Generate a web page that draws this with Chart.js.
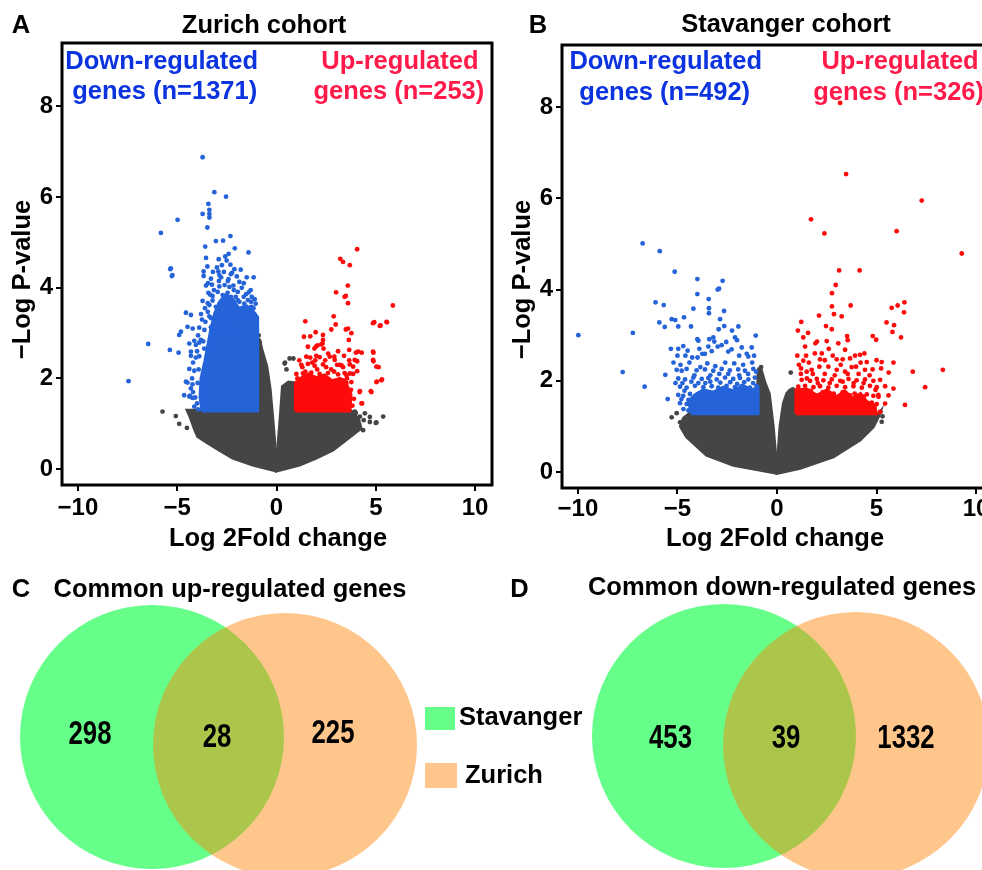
<!DOCTYPE html>
<html><head><meta charset="utf-8">
<script src="https://cdn.jsdelivr.net/npm/chart.js@4.4.1/dist/chart.umd.min.js"></script>
<style>
html,body{margin:0;padding:0;width:982px;height:870px;overflow:hidden;background:#fff}
canvas{position:absolute}
</style>
</head><body>
<canvas id="cA" width="500" height="560" style="left:0;top:0"></canvas>
<canvas id="cB" width="500" height="560" style="left:500px;top:0"></canvas>
<canvas id="cV" width="982" height="310" style="left:0;top:560px"></canvas>
<script>
// ---------------- DATA ----------------
const xTicks = [-10, -5, 0, 5, 10];
const yTicks = [0, 2, 4, 6, 8];

// Zurich cohort (panel A): [log2FC, -logP]
const zurichDown = [
[-3.72,6.88],[-3.13,6.11],[-2.54,6.01],[-3.43,5.85],[-3.38,5.72],[-3.38,5.63],[-3.38,5.55],[-3.72,5.63],[-4.98,5.50],[-5.82,5.21],[-3.48,5.33],[-3.05,5.03],[-2.69,5.04],[-2.32,5.14],[-3.59,4.91],[-2.10,4.87],[-1.41,4.78],[-3.55,4.66],[-2.91,4.63],[-2.58,4.69],[-2.41,4.75],[-2.51,4.60],[-2.32,4.51],[-3.48,4.47],[-5.35,4.41],[-5.27,4.26],[-3.67,4.36],[-3.67,4.26],[-2.93,4.36],[-2.88,4.28],[-2.79,4.23],[-2.12,4.41],[-2.24,4.33],[-2.42,4.19],[-1.50,4.23],[-1.15,4.23],[-1.87,4.13],[-3.55,4.05],[-3.25,4.07],[-2.88,4.03],[-2.61,4.06],[-2.37,4.02],[-2.17,4.05],
[-3.43,3.89],[-3.22,3.82],[-2.96,3.91],[-2.71,3.84],[-2.46,3.89],[-2.29,3.80],[-1.95,3.91],[-1.53,3.86],[-1.30,3.95],[-1.75,4.00],
[-4.56,3.45],[-4.31,3.40],
[-3.38,3.62],[-3.46,3.47],[-3.29,3.33],[-3.58,3.25],[-3.05,3.58],[-2.88,3.44],[-3.08,3.25],[-2.54,3.40],[-2.37,3.66],[-2.20,3.51],[-1.87,3.69],[-1.61,3.55],[-1.44,3.73],[-1.27,3.58],[-1.16,3.55],
[-3.72,3.71],[-3.46,3.66],[-3.22,3.72],[-2.88,3.64],[-2.54,3.70],[-2.20,3.67],[-1.95,3.73],[-1.62,3.65],[-1.28,3.69],
[-3.80,3.42],[-3.38,3.37],[-3.05,3.43],[-2.71,3.38],[-2.37,3.41],[-2.00,3.36],[-1.70,3.43],[-1.36,3.38],[-1.11,3.41],
[-3.89,3.12],[-3.63,3.07],[-3.30,3.13],[-2.96,3.08],[-2.63,3.11],[-2.29,3.06],
[-4.14,2.83],[-3.89,2.79],[-3.69,2.82],
[-4.31,2.50],[-4.06,2.46],[-3.89,2.49],
[-4.39,2.21],[-4.14,2.17],[-3.92,2.20],
[-4.48,1.91],[-4.23,1.87],[-3.97,1.90],
[-4.36,1.62],[-4.09,1.58],
[-4.81,3.03],[-4.90,2.96],[-4.48,3.14],[-4.22,3.10],[-5.37,2.63],[-4.93,2.57],[-6.46,2.76],[-7.45,1.94],
[-4.39,2.77],[-4.06,2.74],[-4.31,2.59],[-3.81,2.85],[-3.64,2.66],
[-5.32,4.43],[-5.24,4.28],[-4.65,1.63],[-4.56,1.93],[-4.31,1.78],[-4.39,1.60],[-4.14,1.38],[-4.23,1.57],
[-3.30,4.20],[-3.00,4.45],[-2.75,4.50],[-2.65,4.35],[-2.30,4.30],[-2.00,4.25],[-1.80,4.40],[-1.65,4.10],[-3.15,3.95],[-2.05,3.80],[-1.40,3.90],[-1.10,3.75],[-3.60,3.55],[-3.75,3.30],[-3.95,2.95],[-4.00,2.60],[-4.20,2.35],[-4.25,2.00],[-4.20,1.70],[-4.00,1.45],[-3.95,1.32],[-1.05,3.65],[-1.25,3.80],[-2.45,4.15],[-2.90,4.15],[-3.20,4.35],[-3.45,4.10],[-3.35,3.85],[-1.65,3.80],[-2.15,3.95]
];
const zurichUp = [
[4.06,4.85],[3.21,4.64],[3.35,4.57],[3.69,4.50],[3.59,4.05],[3.00,3.90],[3.49,3.82],[5.86,3.61],[1.45,3.26],[2.88,3.37],[4.92,3.24],[5.24,3.17],[5.56,3.24],[2.76,3.08],[2.98,3.19],[3.49,3.08],[3.60,3.10],[3.77,3.00],[1.38,2.92],[1.70,2.93],[1.97,3.02],[2.34,2.96],[2.34,2.85],[2.26,2.75],[2.00,2.71],[2.37,2.66],[3.64,2.85],[3.66,2.63],[4.00,2.57],[4.29,2.57],[4.88,2.57],[2.91,2.48],[3.66,2.40],[4.06,2.38],[4.88,2.38],[5.14,2.25],[4.06,2.16],[5.31,1.98],[5.05,1.93],[4.20,1.72],[4.75,1.72],[4.31,1.45],
[1.50,2.48],[1.70,2.46],[2.00,2.50],[2.17,2.47],
[1.25,2.30],[1.58,2.32],[1.92,2.28],[2.34,2.31],[3.27,2.29],[3.69,2.31],
[1.33,2.11],[1.75,2.13],[2.17,2.10],[2.59,2.12],[3.10,2.09],[3.43,2.12],[3.86,2.10],
[1.16,1.93],[1.50,1.95],[1.92,1.92],[2.26,1.94],[2.68,1.91],[3.18,1.93],[3.52,1.90],[3.77,1.92],
[1.58,2.70],[1.91,2.66],[2.07,2.73],[2.32,2.77],
[2.68,2.48],[2.93,2.41],[3.19,2.30],
[3.52,2.07],[3.69,2.11],[3.36,1.96],
[4.86,2.59],[4.86,2.41],[5.03,2.26],[4.78,1.70],[4.28,1.45],[5.28,1.96],[5.03,1.92],
[4.11,2.59],[3.94,2.41],[3.86,2.26],[4.19,1.70],
[3.43,3.80],[3.60,3.66],
[4.86,3.22],[5.20,3.16],[5.54,3.25],
[1.05,2.00],[1.30,2.25],[1.45,2.15],[1.80,2.35],[2.05,2.20],[2.50,2.25],[2.45,2.40],[2.75,2.20],[2.90,2.15],[3.05,2.30],[3.35,2.25],[3.55,2.00],[3.75,1.75],[3.90,1.55],[3.82,1.40],[1.00,2.10],[1.15,2.40],[1.95,2.40],[2.60,2.55],[3.10,2.60],[3.40,2.50]
];
const zurichNS = [
[-5.74,1.27],[-5.07,1.17],[-4.90,1.00],[-4.51,0.91],[-0.99,3.05],[-0.85,2.80],[-0.90,2.95],[0.43,2.35],[0.85,2.44],[0.50,2.20],[0.66,2.44],[0.41,2.33],
[3.99,1.24],[4.20,1.16],[4.39,1.08],[4.70,1.04],[5.00,1.02],[5.37,1.16],[3.94,1.27],[4.45,1.23],[4.70,1.15],[5.03,1.03],[4.11,1.08],[4.36,0.86]
];
const zurichNSLeftShape = [[0,-0.04],[-1.2,0.09],[-2.2,0.24],[-2.88,0.42],[-3.55,0.6],[-3.97,0.72],[-4.1,0.85],[-4.35,1.15],[-4.5,1.3],[-1.0,1.3],[-0.97,2.9],[-0.85,2.85],[-0.74,2.64],[-0.49,2.27],[-0.32,1.76],[-0.2,1.17],[-0.07,0.49],[0,0.3],[0,-0.04]];
const zurichNSRightShape = [[0,0.3],[0.07,0.49],[0.2,1.2],[0.3,1.82],[0.6,1.92],[1.0,1.9],[1.0,1.3],[3.7,1.3],[3.95,1.22],[4.2,1.0],[4.25,0.9],[3.69,0.71],[2.85,0.42],[2.0,0.24],[1.16,0.09],[0,-0.04],[0,0.3]];
const zurichDownCore = [[-3.75,1.28],[-0.95,1.28],[-0.95,3.35],[-1.2,3.5],[-1.5,3.6],[-1.9,3.55],[-2.2,3.75],[-2.55,3.85],[-2.85,3.7],[-3.1,3.45],[-3.3,3.1],[-3.45,2.75],[-3.6,2.4],[-3.8,2.0],[-3.85,1.6],[-3.75,1.28]];
const zurichUpCore = [[0.95,1.28],[3.7,1.28],[3.75,1.65],[3.5,1.9],[3.2,2.0],[2.8,1.95],[2.4,2.08],[2.0,2.02],[1.6,2.1],[1.2,2.0],[0.95,1.9],[0.95,1.28]];

// Stavanger cohort (panel B)
const stavangerDown = [
[-6.75,5.01],[-5.89,4.84],[-5.14,4.39],[-4.00,4.23],[-2.73,4.19],[-2.98,4.00],[-2.91,4.02],[-4.00,3.90],[-3.43,3.79],[-6.10,3.72],[-5.69,3.66],[-4.20,3.58],[-3.42,3.59],[-3.42,3.48],[-2.66,3.53],[-5.91,3.28],[-5.64,3.18],[-5.29,3.35],[-5.11,3.33],[-4.96,3.19],[-4.67,3.39],[-4.32,3.19],[-2.86,3.35],[-2.65,3.20],[-2.93,3.13],[-2.26,3.10],[-1.94,3.19],[-1.07,2.99],[-9.98,3.00],[-7.24,3.05],[-7.75,2.19],[-6.65,1.87],[-5.61,2.13],[-5.49,1.60],[-4.00,2.91],[-3.95,2.88],[-3.40,2.91],[-3.20,2.95],[-3.15,2.86],[-2.11,2.95],[-2.01,2.89],[-5.33,2.70],[-4.96,2.70],[-4.71,2.76],[-4.49,2.66],[-4.26,2.51],[-3.99,2.51],[-3.75,2.59],[-3.62,2.59],[-3.28,2.65],[-2.98,2.75],[-2.78,2.78],[-2.45,2.64],[-2.28,2.69],[-1.77,2.73],[-1.52,2.59],[-1.27,2.73],[-1.44,2.53],
[-5.04,2.24],[-4.79,2.22],[-4.54,2.26],[-4.04,2.23],[-3.62,2.25],[-3.20,2.22],[-2.78,2.26],[-2.37,2.23],[-1.95,2.25],[-1.61,2.22],[-1.19,2.26],
[-4.96,2.05],[-4.62,2.03],[-4.20,2.07],[-3.78,2.04],[-3.45,2.06],[-3.03,2.03],[-2.61,2.07],[-2.20,2.04],[-1.86,2.06],[-1.44,2.03],[-1.11,2.07],
[-4.87,1.87],[-4.54,1.85],[-4.12,1.89],[-3.70,1.86],[-3.28,1.88],[-2.95,1.85],[-2.53,1.89],[-2.11,1.86],[-1.78,1.88],[-1.36,1.85],[-1.03,1.89],
[-4.96,1.69],[-4.71,1.67],[-4.37,1.71],[-3.95,1.68],[-3.53,1.70],[-3.12,1.67],[-2.70,1.71],[-2.28,1.68],[-1.95,1.70],[-1.53,1.67],[-1.11,1.71],
[-4.87,1.51],[-4.54,1.49],[-4.20,1.53],[-4.70,1.38],[-4.45,1.35],
[-4.85,2.35],[-4.40,2.40],[-4.15,2.12],[-3.85,2.30],[-3.50,2.38],[-3.35,2.12],[-3.10,2.32],[-2.90,2.15],[-2.60,2.40],[-2.45,2.15],[-2.15,2.38],[-1.90,2.12],[-1.70,2.35],[-1.45,2.15],[-1.25,2.40],[-1.05,2.20],[-4.75,1.95],[-4.30,1.98],[-3.95,1.95],[-3.60,1.95],[-3.35,1.98],[-2.85,1.96],[-2.35,1.97],[-2.00,1.93],[-1.65,1.97],[-1.20,1.95],[-4.65,1.78],[-4.45,1.58],[-4.80,1.60],[-5.10,1.95],[-5.20,2.40],[-5.00,2.55],[-4.60,2.55],[-3.90,2.70],[-3.45,2.75],[-2.55,2.85],[-1.90,2.55],[-1.15,2.55]
];
const stavangerUp = [
[3.17,8.09],[3.47,6.53],[7.27,5.95],[1.71,5.54],[2.38,5.23],[6.01,5.28],[9.28,4.79],[3.12,4.42],[4.15,4.42],[2.95,4.10],[2.76,3.92],[2.76,3.63],[3.70,3.65],[5.76,3.60],[6.06,3.65],[6.40,3.72],[6.38,3.50],[2.11,3.43],[2.86,3.46],[3.25,3.41],[1.22,3.29],[1.05,3.10],[1.56,3.05],[1.32,2.95],[2.46,3.20],[2.75,3.13],[5.50,3.28],[5.88,3.22],[5.80,3.07],[6.23,2.95],[3.52,2.98],[4.81,2.98],[4.98,2.90],[1.41,2.75],[1.93,2.82],[2.01,2.86],[2.50,2.87],[3.08,2.82],[3.55,2.89],[1.02,2.55],[1.46,2.55],[2.25,2.60],[2.80,2.55],[3.42,2.68],[3.67,2.49],[3.92,2.55],[4.17,2.57],[4.39,2.60],[3.30,2.47],[1.32,2.44],[2.16,2.47],[3.00,2.47],[4.51,2.41],[5.26,2.41],[5.85,2.40],[1.21,2.27],[1.49,2.20],[1.74,2.24],[2.13,2.31],[2.58,2.31],[3.00,2.24],[3.42,2.20],[3.97,2.31],[4.42,2.24],[5.23,2.27],[5.61,2.18],[6.82,2.20],[8.33,2.24],[7.44,1.86],[6.43,1.47],[5.85,1.83],[5.60,1.68],[5.43,1.50],[5.18,1.32],
[1.24,2.02],[1.66,2.00],[2.00,2.04],[2.33,2.01],[2.75,2.03],[3.17,2.00],[3.59,2.04],[4.00,2.01],[4.42,2.03],[4.84,2.00],[5.18,2.02],
[1.07,1.87],[1.41,1.89],[1.83,1.86],[2.16,1.88],[2.58,1.85],[3.00,1.89],[3.42,1.86],[3.84,1.88],[4.26,1.85],[4.67,1.89],[5.01,1.86],[5.43,1.88],
[1.49,1.69],[2.66,1.71],[3.67,1.68],[4.51,1.70],[4.84,1.67],[5.09,1.69],
[4.51,1.50],[4.76,1.52],[5.01,1.49],
[1.20,2.15],[1.50,2.05],[1.80,2.15],[2.05,1.95],[2.40,2.15],[2.65,1.95],[2.90,2.12],[3.30,1.98],[3.55,2.15],[3.85,1.95],[4.10,2.15],[4.35,1.95],[4.65,2.12],[4.95,1.80],[5.10,1.65],[4.90,1.45],[1.15,1.75],[1.70,1.78],[2.30,1.75],[2.85,1.72],[3.30,1.75],[3.90,1.72],[4.35,1.65],[1.10,2.35],[1.60,2.40],[2.40,2.45],[3.20,2.35],[3.75,2.30],[4.20,2.40],[4.80,2.25],[5.00,2.45],[1.90,2.60],[2.60,2.70]
];
const stavangerNS = [
[-5.29,1.20],[-5.04,1.29],[-4.87,1.09],[-4.70,1.03],[-0.89,2.25],[-0.89,2.09],[-0.80,2.30],[0.69,2.18],[0.79,1.81],[5.26,1.10],[5.30,1.22],[5.20,1.32]
];
const stavangerNSLeftShape = [[0,-0.03],[-2.19,0.15],[-3.54,0.37],[-4.55,0.77],[-4.85,1.0],[-4.7,1.18],[-4.35,1.3],[-1.0,1.3],[-0.95,2.2],[-0.8,2.25],[-0.6,1.95],[-0.39,1.72],[-0.19,0.99],[-0.05,0.27],[0,0.15],[0,-0.03]];
const stavangerNSRightShape = [[0,0.15],[0.03,0.27],[0.15,0.99],[0.32,1.5],[0.49,1.72],[0.65,1.8],[1.0,1.8],[1.0,1.3],[5.1,1.28],[5.18,1.32],[5.09,1.21],[4.84,0.99],[4.17,0.7],[2.83,0.33],[1.16,0.08],[0,-0.03],[0,0.15]];
const stavangerDownCore = [[-4.3,1.28],[-0.95,1.28],[-0.95,1.85],[-1.3,1.8],[-1.7,1.9],[-2.2,1.78],[-2.7,1.86],[-3.2,1.75],[-3.7,1.8],[-4.1,1.7],[-4.45,1.55],[-4.3,1.28]];
const stavangerUpCore = [[0.95,1.28],[5.0,1.28],[4.9,1.45],[4.5,1.55],[4.2,1.72],[3.8,1.62],[3.4,1.78],[3.0,1.65],[2.5,1.8],[2.0,1.68],[1.5,1.82],[0.95,1.8],[0.95,1.28]];

// Venn
const vennSets = ['Stavanger', 'Zurich'];
const commonUpCounts = [298, 28, 225];     // Stavanger only, both, Zurich only
const commonDownCounts = [453, 39, 1332];

// ---------------- STYLE / LAYOUT ----------------
const FAM = '"Liberation Sans", Arial, Helvetica, sans-serif';
const F25 = 'bold 25.5px ' + FAM;
const GRAY = '#454545', BLUE = '#2563d9', RED = '#ff0a0a';
const BLUE_T = '#0b33e0', RED_T = '#ff1a4a';
const GREEN_F = 'rgba(0,255,60,0.6)', ORANGE_F = 'rgba(255,128,0,0.45)';
Chart.defaults.font.family = FAM;

const toXY = a => a.map(p => ({x: p[0], y: p[1]}));
const fmt = v => v < 0 ? '\u2212' + Math.abs(v) : String(v);

function makeTextPlugin(items, frame) {
  return {
    id: 'panelText',
    afterDraw(chart) {
      const ctx = chart.ctx, xs = chart.scales.x, ys = chart.scales.y, a = chart.chartArea;
      ctx.save();
      if (frame) {
        ctx.strokeStyle = '#000'; ctx.lineWidth = frame;
        ctx.strokeRect(a.left, a.top, a.right - a.left, a.bottom - a.top);
      }
      for (const it of items) {
        const x = it.dx !== undefined ? xs.getPixelForValue(it.dx) : it.px;
        const y = it.dy !== undefined ? ys.getPixelForValue(it.dy) : it.py;
        ctx.save(); ctx.translate(x, y);
        if (it.rot) ctx.rotate(it.rot);
        if (it.sx) ctx.scale(it.sx, 1);
        if (it.rect) { ctx.fillStyle = it.color; ctx.fillRect(0, 0, it.rect[0], it.rect[1]); }
        else {
          ctx.font = it.font || F25; ctx.fillStyle = it.color || '#000';
          ctx.textAlign = it.align || 'center'; ctx.textBaseline = 'middle';
          ctx.fillText(it.text, 0, 0);
        }
        ctx.restore();
      }
      ctx.restore();
    }
  };
}

function shapeDs(pts, color, order) {
  return {type: 'line', data: toXY(pts), fill: 'shape', backgroundColor: color, borderColor: color,
          borderWidth: 3, pointRadius: 0, pointHoverRadius: 0, tension: 0, order: order};
}
function ptsDs(pts, color, order) {
  return {type: 'scatter', data: toXY(pts), backgroundColor: color, borderWidth: 0, pointRadius: 2.4, order: order};
}

function volcano(canvasId, d, L, items) {
  return new Chart(document.getElementById(canvasId), {
    type: 'scatter',
    data: {datasets: [
      shapeDs(d.nsL, GRAY, 7), shapeDs(d.nsR, GRAY, 7),
      ptsDs(d.ns, GRAY, 6),
      shapeDs(d.downCore, BLUE, 5), shapeDs(d.upCore, RED, 5),
      ptsDs(d.down, BLUE, 3), ptsDs(d.up, RED, 3)
    ]},
    options: {
      responsive: false, animation: false, events: [],
      layout: {autoPadding: false, padding: {top: L.top, right: 8, left: 0, bottom: 0}},
      plugins: {legend: {display: false}, tooltip: {enabled: false}},
      scales: {
        x: {type: 'linear', min: L.xmin, max: L.xmax,
            afterBuildTicks: s => { s.ticks = xTicks.map(v => ({value: v})); },
            afterFit: s => { s.height = L.xh; },
            grid: {drawOnChartArea: false, drawTicks: true, tickLength: 6, color: '#000', lineWidth: 2},
            border: {display: false},
            ticks: {font: {size: 24, weight: 'bold'}, color: '#000', padding: L.xpad, maxRotation: 0, callback: fmt}},
        y: {type: 'linear', min: L.ymin, max: L.ymax,
            afterBuildTicks: s => { s.ticks = yTicks.map(v => ({value: v})); },
            afterFit: s => { s.width = 62; },
            grid: {drawOnChartArea: false, drawTicks: true, tickLength: 6, color: '#000', lineWidth: 2},
            border: {display: false},
            ticks: {font: {size: 24, weight: 'bold'}, color: '#000', padding: 3, callback: fmt}}
      }
    },
    plugins: [makeTextPlugin(items, 3)]
  });
}

volcano('cA', {nsL: zurichNSLeftShape, nsR: zurichNSRightShape, ns: zurichNS, downCore: zurichDownCore, upCore: zurichUpCore, down: zurichDown, up: zurichUp},
  {top: 43, xh: 75, xmin: -10.8, xmax: 10.85, ymin: -0.35, ymax: 9.4, xpad: 3},
  [
    {text: 'A', px: 21, py: 26},
    {text: 'Zurich cohort', px: 264, py: 26},
    {text: 'Down-regulated', dx: -5.78, dy: 8.99, color: BLUE_T},
    {text: 'genes (n=1371)', dx: -5.63, dy: 8.31, color: BLUE_T},
    {text: 'Up-regulated', dx: 6.21, dy: 8.99, color: RED_T},
    {text: 'genes (n=253)', dx: 6.16, dy: 8.31, color: RED_T},
    {text: '\u2212Log P-value', px: 23, py: 279.5, rot: -Math.PI / 2},
    {text: 'Log 2Fold change', px: 278, py: 539}
  ]);

volcano('cB', {nsL: stavangerNSLeftShape, nsR: stavangerNSRightShape, ns: stavangerNS, downCore: stavangerDownCore, upCore: stavangerUpCore, down: stavangerDown, up: stavangerUp},
  {top: 45, xh: 72, xmin: -10.8, xmax: 10.8, ymin: -0.35, ymax: 9.36, xpad: 1},
  [
    {text: 'B', px: 38, py: 26},
    {text: 'Stavanger cohort', px: 286, py: 25},
    {text: 'Down-regulated', dx: -5.59, dy: 8.99, color: BLUE_T},
    {text: 'genes (n=492)', dx: -5.64, dy: 8.30, color: BLUE_T},
    {text: 'Up-regulated', dx: 6.18, dy: 8.99, color: RED_T},
    {text: 'genes (n=326)', dx: 6.11, dy: 8.30, color: RED_T},
    {text: '\u2212Log P-value', px: 23, py: 279.5, rot: -Math.PI / 2},
    {text: 'Log 2Fold change', px: 275, py: 539}
  ]);

// Venn diagrams (bubble chart, scale units = page pixels)
const VG = {
  up:   {s: {x: 152, y: 737, r: 132}, z: {x: 285, y: 745, r: 132}, lab: [[90, 735], [217, 737.5], [333, 733.5]]},
  down: {s: {x: 724, y: 736, r: 132}, z: {x: 856, y: 745, r: 133}, lab: [[670.5, 739], [786, 739], [906, 739]]}
};
const NUMF = 'bold 33px ' + FAM;
const vennItems = [
  {text: 'C', dx: 21, dy: 590},
  {text: 'Common up-regulated genes', dx: 230, dy: 590},
  {text: 'D', dx: 519.5, dy: 590},
  {text: 'Common down-regulated genes', dx: 782, dy: 588},
  {rect: [30, 23], dx: 425, dy: 707, color: GREEN_F},
  {rect: [32, 25], dx: 425, dy: 763, color: ORANGE_F},
  {text: vennSets[0], dx: 459, dy: 717.5, align: 'left'},
  {text: vennSets[1], dx: 465, dy: 776, align: 'left'}
];
commonUpCounts.forEach((c, i) => vennItems.push({text: String(c), dx: VG.up.lab[i][0], dy: VG.up.lab[i][1], font: NUMF, sx: 0.78}));
commonDownCounts.forEach((c, i) => vennItems.push({text: String(c), dx: VG.down.lab[i][0], dy: VG.down.lab[i][1], font: NUMF, sx: 0.78}));

new Chart(document.getElementById('cV'), {
  type: 'bubble',
  data: {datasets: [
    {label: vennSets[0], data: [VG.up.s, VG.down.s], backgroundColor: GREEN_F, borderWidth: 0, order: 2, clip: false},
    {label: vennSets[1], data: [VG.up.z, VG.down.z], backgroundColor: ORANGE_F, borderWidth: 0, order: 1, clip: false}
  ]},
  options: {
    responsive: false, animation: false, events: [],
    layout: {autoPadding: false, padding: 0},
    plugins: {legend: {display: false}, tooltip: {enabled: false}},
    scales: {x: {display: false, min: 0, max: 982}, y: {display: false, min: 560, max: 870, reverse: true}}
  },
  plugins: [makeTextPlugin(vennItems, 0)]
});
</script>
</body></html>
